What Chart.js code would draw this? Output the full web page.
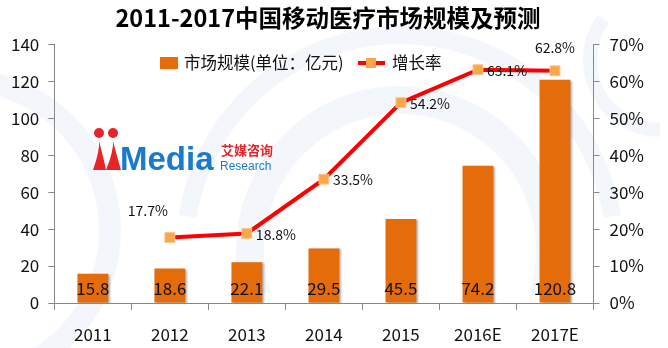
<!DOCTYPE html>
<html>
<head>
<meta charset="utf-8">
<script src="https://cdn.jsdelivr.net/npm/chart.js@4.4.1/dist/chart.umd.min.js"></script>
<style>
  html, body { margin: 0; padding: 0; background: #fff; }
  #wrap { width: 668px; height: 348px; position: relative; }
</style>
</head>
<body>
<div id="wrap"><canvas id="chartId" width="668" height="348"></canvas></div>
<script>
// data
var years = ['2011', '2012', '2013', '2014', '2015', '2016E', '2017E'];
var marketSize = [15.8, 18.6, 22.1, 29.5, 45.5, 74.2, 120.8];
var growthRate = [null, 17.7, 18.8, 33.5, 54.2, 63.1, 62.8];
var leftTicks = [0, 20, 40, 60, 80, 100, 120, 140];
var rightTicks = [0, 10, 20, 30, 40, 50, 60, 70];

var FONT = "'Noto Sans CJK SC', 'Noto Sans', sans-serif";
var ORANGE = '#E46C0A';
var RED = '#FF0000';
var MARK = '#F8A84B';

// faint watermark circles + iMedia logo behind the chart
var backdrop = {
  id: 'backdrop',
  beforeDraw: function (chart) {
    var ctx = chart.ctx;
    ctx.save();
    ctx.strokeStyle = 'rgba(222,232,245,0.35)';
    ctx.lineWidth = 28;
    ctx.beginPath(); ctx.arc(400, 250, 150, Math.PI * 0.9, Math.PI * 2.1); ctx.stroke();
    ctx.lineWidth = 18;
    ctx.beginPath(); ctx.arc(400, 250, 215, Math.PI * 1.05, Math.PI * 1.95); ctx.stroke();
    ctx.lineWidth = 22;
    ctx.beginPath(); ctx.arc(-40, 230, 150, -Math.PI * 0.45, Math.PI * 0.45); ctx.stroke();
    ctx.lineWidth = 14;
    ctx.beginPath(); ctx.arc(660, 60, 70, Math.PI * 0.5, Math.PI * 1.2); ctx.stroke();

    // logo
    ctx.fillStyle = '#E8242B';
    ctx.beginPath(); ctx.arc(99, 133, 5, 0, Math.PI * 2); ctx.fill();
    ctx.beginPath(); ctx.arc(113, 133, 5, 0, Math.PI * 2); ctx.fill();
    ctx.beginPath();
    ctx.moveTo(93, 170); ctx.quadraticCurveTo(100, 150, 99, 141); ctx.quadraticCurveTo(104, 160, 106, 170); ctx.closePath(); ctx.fill();
    ctx.beginPath();
    ctx.moveTo(106, 170); ctx.quadraticCurveTo(114, 150, 113, 141); ctx.quadraticCurveTo(118, 160, 121, 170); ctx.closePath(); ctx.fill();
    ctx.fillStyle = '#1B7BCB';
    ctx.font = "bold 33px 'Liberation Sans', sans-serif";
    ctx.textBaseline = 'alphabetic';
    ctx.textAlign = 'left';
    ctx.fillText('Media', 120, 170);
    ctx.fillStyle = '#E8242B';
    ctx.font = "bold 13px " + FONT;
    ctx.fillText('艾媒咨询', 221, 155);
    ctx.fillStyle = '#1B7BCB';
    ctx.font = "12px 'Liberation Sans', sans-serif";
    ctx.fillText('Research', 220, 170);
    ctx.restore();
  },
  beforeDatasetDraw: function (chart, args) {
    if (args.index === 0) {
      var ctx = chart.ctx;
      ctx.save();
      ctx.shadowColor = 'rgba(0,0,0,0.3)';
      ctx.shadowOffsetX = 2;
      ctx.shadowOffsetY = 1;
      ctx.shadowBlur = 2;
    }
  },
  afterDatasetDraw: function (chart, args) {
    if (args.index === 0) chart.ctx.restore();
  }
};

// value labels and the legend inside the plot
var labelsPlugin = {
  id: 'labelsPlugin',
  afterDatasetsDraw: function (chart) {
    var ctx = chart.ctx;
    ctx.save();
    ctx.fillStyle = '#111';
    ctx.textBaseline = 'middle';

    var barMeta = chart.getDatasetMeta(0);
    var yScale = chart.scales.y;
    ctx.font = '17px ' + FONT;
    ctx.textAlign = 'center';
    barMeta.data.forEach(function (bar, i) {
      ctx.fillText(marketSize[i].toFixed(1), bar.x, yScale.bottom - 14);
    });

    var lineMeta = chart.getDatasetMeta(1);
    ctx.font = '14px ' + FONT;
    lineMeta.data.forEach(function (pt, i) {
      if (growthRate[i] === null) return;
      var txt = growthRate[i].toFixed(1) + '%';
      if (i === 1) {
        ctx.textAlign = 'center';
        ctx.fillText(txt, pt.x - 22, pt.y - 27);
      } else if (i === growthRate.length - 1) {
        ctx.textAlign = 'center';
        ctx.fillText(txt, pt.x, pt.y - 23);
      } else {
        ctx.textAlign = 'left';
        ctx.fillText(txt, pt.x + 9, pt.y + 1);
      }
    });

    // legend
    var ly = 63;
    ctx.fillStyle = ORANGE;
    ctx.fillRect(160, ly - 6, 18, 12);
    ctx.fillStyle = '#111';
    ctx.font = '16.5px ' + FONT;
    ctx.textAlign = 'left';
    ctx.fillText(chart.data.datasets[0].label, 184, ly);
    ctx.strokeStyle = RED;
    ctx.lineWidth = 4;
    ctx.beginPath(); ctx.moveTo(358, ly); ctx.lineTo(385, ly); ctx.stroke();
    ctx.fillStyle = MARK;
    ctx.fillRect(366, ly - 5, 10, 10);
    ctx.fillStyle = '#111';
    ctx.fillText(chart.data.datasets[1].label, 392, ly);
    ctx.restore();
  }
};

var chrt = document.getElementById('chartId').getContext('2d');

var chartConfig = {
  type: 'bar',
  data: {
    labels: years,
    datasets: [{
      type: 'bar',
      label: '市场规模(单位：亿元)',
      data: marketSize,
      backgroundColor: ORANGE,
      categoryPercentage: 0.8,
      barPercentage: 0.5,
      yAxisID: 'y',
      order: 1
    }, {
      type: 'line',
      label: '增长率',
      data: growthRate,
      borderColor: RED,
      borderWidth: 4,
      pointStyle: 'rect',
      pointRadius: 7,
      pointBackgroundColor: MARK,
      pointBorderColor: '#FBC58C',
      pointBorderWidth: 1,
      spanGaps: false,
      tension: 0,
      yAxisID: 'y2',
      order: 0
    }]
  },
  options: {
    responsive: false,
    animation: false,
    layout: { padding: { left: 2, right: 14, top: 0, bottom: 0 } },
    plugins: {
      legend: { display: false },
      tooltip: { enabled: false },
      title: {
        display: true,
        text: '2011-2017中国移动医疗市场规模及预测',
        color: '#000',
        font: { family: FONT, size: 23.5, weight: 'bold' },
        padding: { top: 4, bottom: 12 }
      }
    },
    scales: {
      x: {
        afterFit: function (scale) { scale.height = 45; },
        grid: { display: true, drawOnChartArea: false, color: '#888', tickLength: 7 },
        border: { color: '#888' },
        ticks: { color: '#111', font: { family: FONT, size: 17 }, padding: 14 }
      },
      y: {
        position: 'left',
        min: 0,
        max: 140,
        afterBuildTicks: function (axis) { axis.ticks = leftTicks.map(function (v) { return { value: v }; }); },
        grid: { display: true, drawOnChartArea: false, color: '#888', tickLength: 6 },
        border: { color: '#888' },
        ticks: { color: '#111', font: { family: FONT, size: 17 }, padding: 9 }
      },
      y2: {
        position: 'right',
        min: 0,
        max: 70,
        afterBuildTicks: function (axis) { axis.ticks = rightTicks.map(function (v) { return { value: v }; }); },
        grid: { display: true, drawOnChartArea: false, color: '#888', tickLength: 6 },
        border: { color: '#888' },
        ticks: {
          color: '#111',
          font: { family: FONT, size: 17 },
          padding: 10,
          callback: function (v) { return v + '%'; }
        }
      }
    }
  },
  plugins: [backdrop, labelsPlugin]
};

window.myChart = new Chart(chrt, chartConfig);
</script>
</body>
</html>
